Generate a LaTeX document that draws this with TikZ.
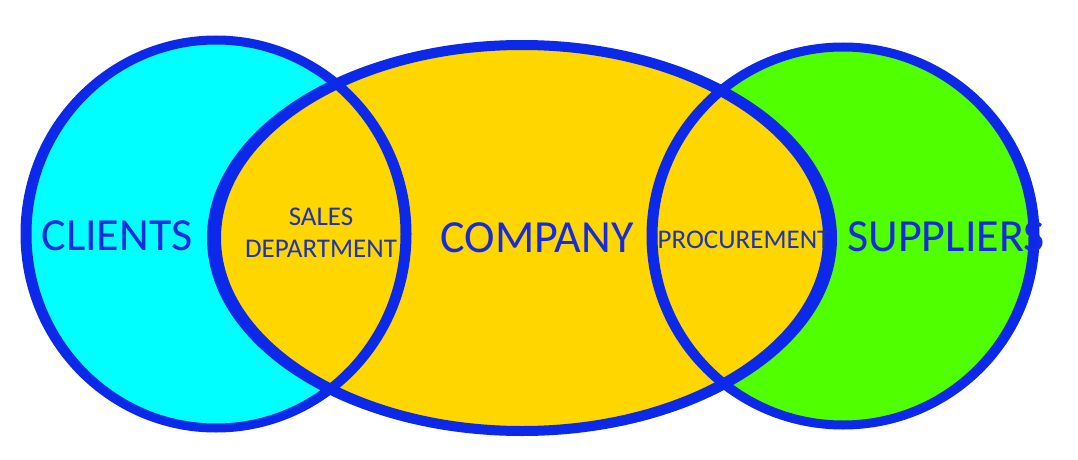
\documentclass[tikz,border=0pt]{standalone}
\usepackage{fontspec}
\setmainfont{Carlito}
\definecolor{ringblue}{RGB}{12,40,232}
\definecolor{wordblue}{RGB}{22,42,222}
\definecolor{deptblue}{RGB}{30,52,180}
\definecolor{clientcyan}{RGB}{0,255,255}
\definecolor{companygold}{RGB}{255,214,0}
\definecolor{suppliergreen}{RGB}{80,255,0}

\begin{document}
\begin{tikzpicture}[x=1pt, y=-1pt,
    ring/.style={fill=ringblue, even odd rule},
    bigword/.style={text=wordblue, font=\fontsize{46}{55}\selectfont, inner sep=0pt},
    deptword/.style={text=deptblue, font=\fontsize{27}{32}\selectfont, inner sep=0pt, align=center}]
    \useasboundingbox (0,0) rectangle (1078,460);

    % Fills
    \fill[clientcyan] (216,234) ellipse [x radius=190, y radius=194];
    \fill[suppliergreen] (843,236) ellipse [x radius=191, y radius=189];
    \fill[companygold] (522,238) ellipse [x radius=308, y radius=193];

    % Outlines
    \fill[ring] (216,234) ellipse [x radius=195.5, y radius=198.5]
                (216,234) ellipse [x radius=184.5, y radius=189.5];
    \fill[ring] (522,238) ellipse [x radius=315, y radius=198]
                (522,238) ellipse [x radius=301, y radius=188];
    \fill[ring] (843,236) ellipse [x radius=196.5, y radius=193.5]
                (843,236) ellipse [x radius=185.5, y radius=184.5];

    % Labels
    \node[bigword] (clients) at (117,236) {CLIENTS};
    \node[bigword] (company) at (537,238) {COMPANY};
    \node[bigword] (suppliers) at (946,237) {SUPPLIERS};
    \node[deptword] (sales) at (321,233) {SALES\\DEPARTMENT};
    \node[deptword] (procurement) at (744,240) {PROCUREMENT};

\end{tikzpicture}
\end{document}
